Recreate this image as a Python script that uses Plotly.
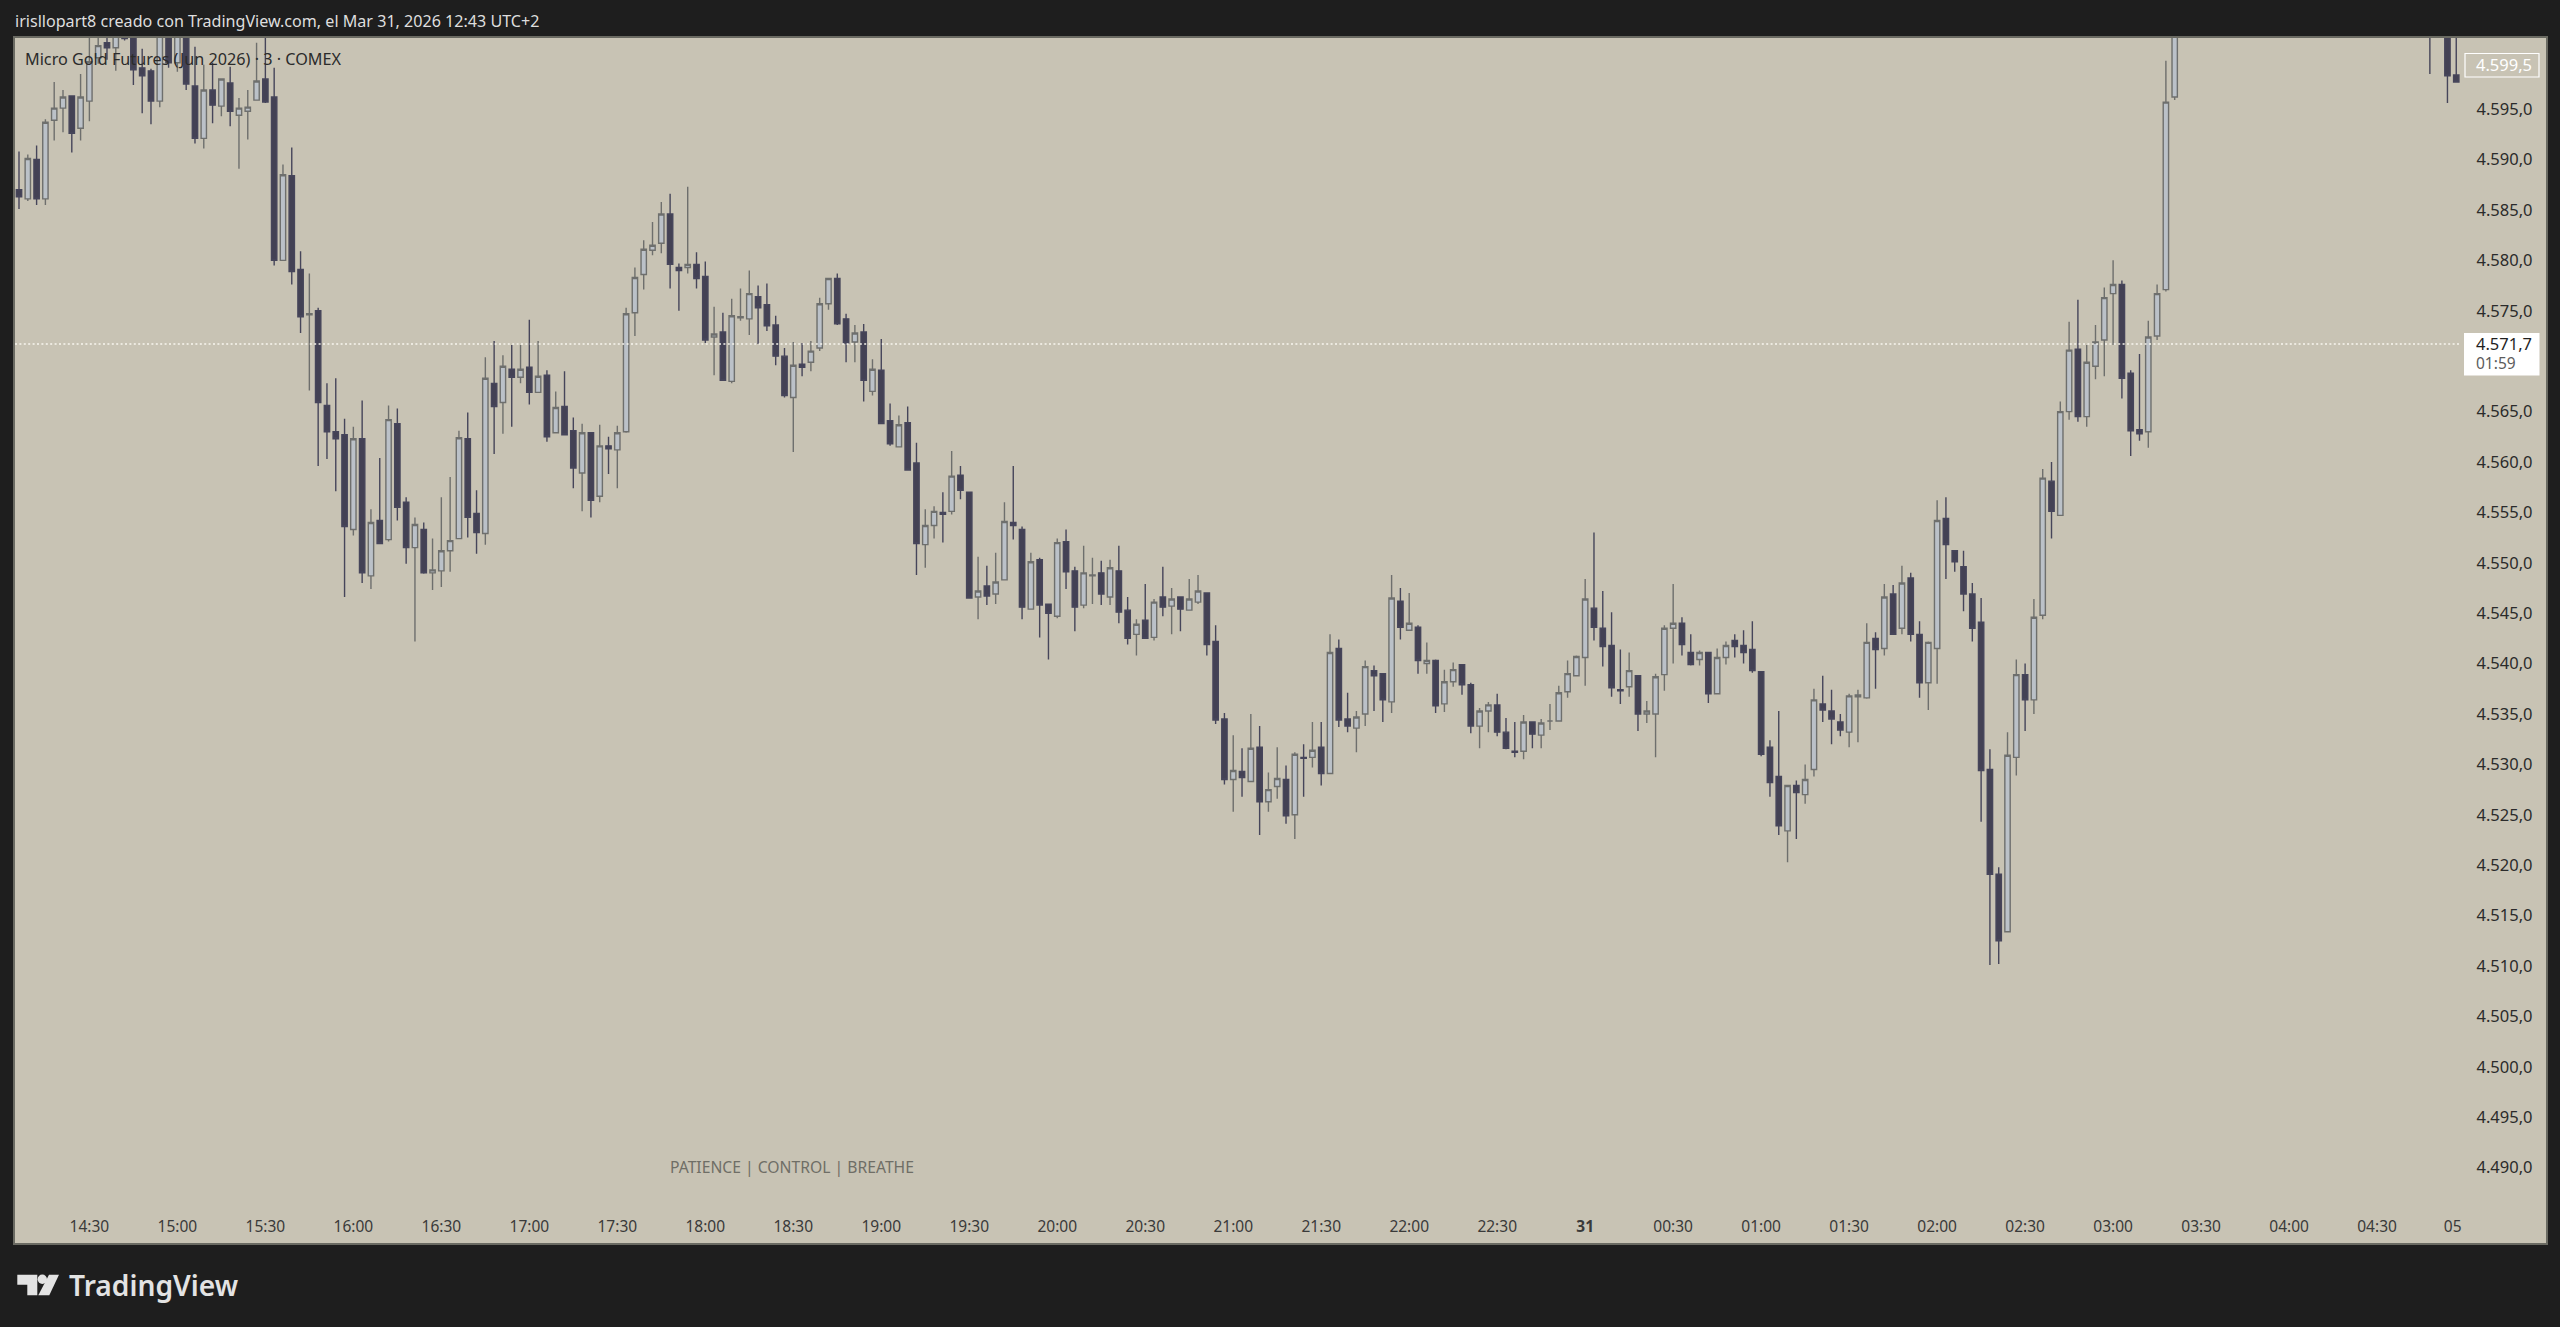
# micro gold futures, 3 min candles
import plotly.graph_objects as go

W, H = 2560, 1327
PANEL_L, PANEL_R, PANEL_T, PANEL_B = 15, 2546, 38, 1243

open_px = [
    4587.0,4586.1,4590.0,4586.1,4593.9,4595.1,4596.3,4593.1,4595.8,4600.1,
    4601.6,4601.1,4603.0,4605.0,4599.1,4598.8,4595.8,4604.0,4599.6,4604.5,
    4597.3,4592.1,4596.9,4595.3,4597.6,4594.4,4594.8,4595.9,4598.0,4596.2,
    4580.0,4588.4,4579.1,4574.6,4575.0,4565.6,4563.0,4562.7,4553.3,4562.3,
    4548.7,4554.2,4552.3,4563.8,4556.0,4551.5,4553.3,4549.0,4549.2,4551.2,
    4552.4,4562.3,4554.9,4552.9,4567.8,4565.9,4569.2,4568.4,4569.4,4566.9,
    4568.6,4562.9,4565.5,4563.1,4558.9,4562.9,4556.6,4561.6,4561.2,4563.0,
    4574.8,4578.6,4581.0,4581.7,4584.6,4579.3,4579.3,4579.6,4578.4,4572.4,
    4572.9,4568.0,4574.3,4574.2,4576.4,4575.6,4573.6,4570.5,4566.4,4569.7,
    4569.9,4571.3,4575.7,4578.2,4574.2,4571.9,4572.9,4567.0,4569.1,4564.1,
    4561.5,4563.9,4559.9,4551.8,4553.7,4555.0,4555.1,4558.7,4557.0,4546.6,
    4547.7,4546.9,4548.3,4554.0,4553.3,4545.4,4550.3,4545.9,4544.7,4552.1,
    4549.2,4545.8,4548.7,4549.0,4546.6,4549.2,4545.3,4542.9,4544.3,4542.6,
    4546.6,4545.7,4546.6,4545.3,4546.1,4547.0,4542.2,4534.5,4528.5,4529.3,
    4528.3,4531.7,4526.3,4527.8,4528.5,4525.0,4530.7,4530.7,4531.7,4529.1,
    4541.5,4534.5,4533.6,4535.0,4539.3,4539.0,4536.2,4546.2,4543.3,4543.6,
    4540.0,4540.3,4536.0,4538.2,4539.9,4537.9,4533.8,4535.3,4535.9,4533.2,
    4531.3,4531.3,4534.2,4532.9,4534.3,4534.3,4537.2,4538.8,4540.6,4545.5,
    4543.5,4541.8,4537.4,4537.7,4538.8,4535.0,4535.0,4538.9,4543.5,4544.0,
    4541.1,4540.4,4541.1,4537.0,4540.6,4542.3,4541.8,4541.4,4539.2,4531.7,
    4528.8,4523.4,4527.9,4527.0,4529.5,4536.0,4535.3,4534.2,4533.2,4536.7,
    4536.6,4542.5,4541.5,4546.9,4543.5,4548.5,4542.9,4538.1,4541.5,4554.4,
    4551.2,4549.6,4546.9,4544.1,4529.5,4519.1,4513.4,4530.7,4538.9,4536.4,
    4544.8,4558.1,4554.7,4565.0,4571.2,4564.5,4569.5,4572.1,4576.7,4577.6,
    4568.8,4563.2,4563.0,4572.5,4577.1,4596.2,
]
high_px = [
    4590.8,4590.5,4591.4,4594.0,4597.7,4596.9,4596.3,4598.5,4603.0,4603.0,
    4603.0,4603.5,4604.0,4606.0,4601.0,4599.0,4605.0,4605.0,4605.0,4605.0,
    4601.2,4599.4,4599.6,4598.0,4599.2,4596.1,4596.9,4601.6,4603.0,4599.1,
    4589.5,4591.2,4580.9,4578.7,4575.3,4567.8,4568.3,4564.3,4563.5,4566.1,
    4555.3,4560.4,4565.6,4565.3,4556.5,4554.5,4554.0,4552.4,4556.5,4558.5,
    4563.1,4564.9,4557.2,4570.4,4572.0,4570.6,4571.6,4571.6,4574.1,4572.0,
    4569.1,4567.0,4569.0,4564.4,4563.8,4562.9,4563.7,4562.5,4563.6,4575.3,
    4579.3,4582.0,4583.8,4585.8,4586.6,4579.7,4587.3,4580.8,4579.9,4575.4,
    4574.8,4576.2,4577.2,4579.0,4577.5,4577.7,4574.5,4571.3,4571.9,4571.8,
    4572.0,4576.3,4578.2,4578.7,4574.7,4573.6,4573.7,4570.2,4572.2,4565.8,
    4564.6,4565.5,4561.9,4555.3,4555.6,4557.0,4561.1,4559.6,4557.0,4550.6,
    4549.7,4551.0,4556.0,4559.6,4553.6,4551.0,4550.5,4545.9,4552.4,4553.3,
    4549.6,4551.7,4550.5,4550.2,4550.3,4551.7,4546.6,4544.4,4547.9,4546.4,
    4549.6,4547.5,4546.6,4548.4,4548.8,4547.0,4543.8,4535.1,4532.9,4531.6,
    4535.0,4533.8,4529.2,4531.7,4529.9,4531.2,4532.0,4534.2,4534.2,4542.9,
    4542.4,4537.1,4535.3,4540.3,4539.8,4539.0,4548.8,4547.5,4547.0,4543.8,
    4542.1,4540.4,4539.4,4540.1,4539.9,4538.1,4535.6,4536.2,4537.0,4534.6,
    4534.2,4534.9,4534.2,4534.5,4536.0,4537.8,4540.3,4540.8,4548.4,4553.0,
    4547.2,4545.1,4541.4,4541.1,4538.8,4536.3,4539.0,4543.8,4547.9,4544.6,
    4542.9,4541.3,4541.1,4541.5,4542.2,4542.9,4543.3,4544.2,4539.2,4532.4,
    4535.3,4527.9,4528.4,4530.0,4537.5,4538.8,4537.4,4535.0,4537.0,4537.4,
    4544.0,4543.1,4547.9,4547.8,4549.7,4549.0,4544.2,4542.2,4556.2,4556.5,
    4551.2,4551.2,4548.0,4546.5,4531.5,4519.8,4533.2,4540.4,4540.0,4546.4,
    4559.3,4560.0,4566.0,4573.9,4576.1,4571.6,4573.6,4577.3,4580.0,4578.0,
    4569.1,4570.7,4574.0,4577.6,4599.8,4608.0,
]
low_px = [
    4585.1,4585.9,4585.5,4585.5,4591.9,4592.7,4590.7,4591.9,4593.8,4599.5,
    4599.9,4598.8,4601.8,4597.4,4594.6,4593.5,4595.2,4599.1,4598.7,4596.9,
    4591.6,4591.1,4593.6,4594.3,4593.3,4589.1,4592.0,4595.9,4595.6,4579.5,
    4580.0,4577.6,4572.8,4567.1,4559.6,4560.3,4557.1,4546.6,4552.7,4548.0,
    4547.4,4551.9,4552.1,4554.2,4549.9,4542.2,4548.9,4547.3,4547.6,4549.1,
    4552.4,4552.5,4550.9,4551.8,4560.8,4562.8,4563.5,4567.8,4565.7,4566.9,
    4562.0,4562.9,4562.7,4557.4,4555.1,4554.5,4556.0,4558.8,4557.4,4562.9,
    4572.5,4577.1,4580.5,4580.7,4577.2,4575.0,4578.7,4577.2,4571.8,4568.6,
    4568.1,4567.8,4574.0,4572.6,4571.7,4573.0,4569.6,4566.4,4561.0,4568.5,
    4569.0,4571.0,4575.1,4573.6,4569.9,4569.9,4566.0,4566.6,4563.8,4561.6,
    4561.5,4559.2,4548.8,4549.5,4552.4,4552.0,4554.8,4556.3,4546.5,4544.4,
    4545.8,4545.9,4548.3,4552.3,4544.4,4545.4,4542.6,4540.4,4544.5,4547.4,
    4543.2,4545.5,4545.9,4545.8,4545.8,4544.0,4541.9,4540.8,4542.5,4542.3,
    4544.7,4542.9,4543.2,4545.3,4545.9,4540.8,4534.0,4528.0,4525.3,4526.8,
    4528.3,4523.0,4525.3,4526.6,4524.1,4522.6,4526.8,4529.7,4527.9,4529.1,
    4533.7,4533.2,4531.2,4533.8,4535.3,4534.2,4535.1,4542.4,4543.3,4539.0,
    4539.0,4535.1,4535.2,4537.7,4536.9,4533.1,4531.6,4533.2,4532.8,4531.5,
    4530.7,4530.5,4531.6,4531.6,4533.4,4534.3,4536.6,4538.8,4537.8,4542.3,
    4539.7,4536.7,4536.0,4536.7,4533.3,4534.1,4530.7,4537.3,4540.0,4540.8,
    4539.8,4539.8,4536.1,4537.0,4539.9,4540.6,4540.0,4539.1,4530.8,4526.8,
    4523.0,4520.3,4522.6,4526.1,4528.8,4534.2,4532.0,4532.8,4531.7,4532.2,
    4536.5,4537.5,4540.8,4542.9,4542.9,4542.2,4536.6,4535.4,4538.0,4548.4,
    4549.1,4545.2,4542.2,4524.3,4510.1,4510.2,4513.4,4528.9,4533.3,4535.0,
    4544.4,4552.4,4554.7,4564.2,4564.0,4563.5,4568.2,4568.5,4571.6,4566.3,
    4560.6,4562.1,4561.4,4572.1,4576.9,4595.9,
]
close_px = [
    4586.3,4590.1,4586.1,4593.7,4595.1,4596.2,4592.6,4596.2,4599.7,4601.3,
    4601.1,4602.3,4602.0,4598.9,4598.3,4595.8,4604.0,4599.6,4604.0,4597.5,
    4592.1,4596.9,4595.4,4598.0,4594.8,4595.1,4595.2,4597.8,4595.7,4580.0,
    4588.5,4578.9,4574.4,4574.7,4565.9,4563.0,4562.3,4553.6,4562.3,4549.0,
    4554.0,4551.9,4564.2,4555.5,4551.5,4553.8,4549.0,4549.3,4551.2,4552.2,
    4562.4,4554.5,4553.0,4568.3,4565.5,4569.5,4568.4,4569.2,4566.9,4568.5,
    4562.5,4565.4,4562.7,4559.4,4562.9,4556.2,4561.6,4561.3,4562.9,4574.7,
    4578.3,4581.1,4581.5,4584.6,4579.6,4579.0,4579.6,4578.2,4572.1,4572.7,
    4568.1,4574.5,4574.4,4576.7,4575.3,4573.5,4570.5,4566.6,4569.6,4569.4,
    4571.0,4575.7,4578.2,4573.7,4571.8,4572.8,4568.1,4569.2,4563.8,4561.8,
    4563.7,4559.2,4551.9,4553.7,4555.1,4554.8,4558.6,4557.2,4546.5,4547.2,
    4546.7,4548.1,4554.1,4553.7,4545.6,4550.1,4545.8,4545.0,4552.0,4549.1,
    4545.6,4549.0,4548.8,4546.9,4549.5,4545.1,4542.5,4543.9,4542.5,4546.1,
    4545.6,4546.4,4545.4,4546.4,4547.2,4541.9,4534.4,4528.5,4529.4,4528.7,
    4531.6,4526.3,4527.5,4528.6,4524.9,4531.0,4530.6,4531.4,4529.1,4541.1,
    4534.4,4533.8,4534.7,4539.7,4538.8,4536.4,4546.5,4543.6,4544.0,4540.3,
    4540.3,4535.8,4538.2,4539.4,4537.9,4533.8,4535.3,4535.9,4533.2,4531.6,
    4531.2,4534.2,4533.0,4534.1,4534.3,4537.1,4539.0,4540.7,4546.4,4543.6,
    4541.7,4537.6,4537.3,4539.3,4535.0,4535.3,4538.7,4543.5,4544.0,4541.9,
    4539.9,4541.1,4537.0,4540.6,4541.8,4541.7,4541.1,4539.3,4531.0,4528.2,
    4523.9,4527.9,4527.2,4528.5,4536.4,4535.4,4534.5,4533.4,4536.8,4536.9,
    4542.1,4541.4,4546.6,4542.9,4548.0,4542.9,4538.1,4542.1,4554.2,4551.8,
    4550.1,4546.9,4543.5,4529.4,4519.1,4512.5,4530.9,4538.9,4536.4,4544.6,
    4558.4,4555.1,4565.0,4571.1,4564.5,4569.9,4571.9,4576.3,4577.6,4568.3,
    4563.1,4562.8,4572.4,4576.7,4595.7,4606.0,
]

# the few candles hanging from the top on the far right
right_bars = [274, 276, 277]
right_open = [4606.0, 4604.0, 4598.4]
right_high = [4608.0, 4606.0, 4604.0]
right_low = [4598.5, 4595.6, 4597.7]
right_close = [4604.0, 4598.3, 4597.7]

time_ticks = [8 + 10 * i for i in range(27)] + [276.6]
time_labels = ["14:30", "15:00", "15:30", "16:00", "16:30", "17:00", "17:30", "18:00",
               "18:30", "19:00", "19:30", "20:00", "20:30", "21:00", "21:30", "22:00",
               "22:30", "<b>31</b>", "00:30", "01:00", "01:30", "02:00", "02:30", "03:00",
               "03:30", "04:00", "04:30", "05"]
# 4.570,0 sits under the last price tag, so it has no label of its own
price_ticks = [p for p in range(4490, 4605, 5) if p != 4570]

last_price = 4571.7
high_label = 4599.5

BG = "#c8c3b4"
DARK = "#1e1e1e"
FONT = "Noto Sans"

# pixel helpers, only for the frame and labels outside the data
def px_x(x):
    return (x - PANEL_L) / (PANEL_R - PANEL_L)

def px_y(y):
    return (PANEL_B - y) / (PANEL_B - PANEL_T)

def es_price(v):
    return f"{v:,.1f}".replace(",", "_").replace(".", ",").replace("_", ".")

bar_index = list(range(len(open_px))) + right_bars

fig = go.Figure(go.Candlestick(
    x=bar_index,
    open=open_px + right_open, high=high_px + right_high,
    low=low_px + right_low, close=close_px + right_close,
    increasing=dict(line=dict(color="#6e6f6d", width=1.4), fillcolor="#bbc1c8"),
    decreasing=dict(line=dict(color="#46455a", width=1.4), fillcolor="#434154"),
    hoverinfo="skip", showlegend=False,
))

fig.add_shape(type="line", xref="paper", yref="y", x0=0, x1=px_x(2461), y0=last_price, y1=last_price,
              line=dict(color="#f8f6ee", width=1.6, dash="2px,2.4px"))

# TradingView logo
logo_paths = ["M 17.3 1274.7 L 37.3 1274.7 L 37.3 1295.3 L 27.3 1295.3 L 27.3 1284.7 L 17.3 1284.7 Z",
              "M 49 1274.7 L 59 1274.7 L 49.3 1295.3 L 38.3 1295.3 Z"]
for p in logo_paths:
    parts = p.split()
    out, i = [], 0
    while i < len(parts):
        if parts[i] in "MLZ":
            out.append(parts[i]); i += 1
        else:
            out += [f"{px_x(float(parts[i])):.5f}", f"{px_y(float(parts[i + 1])):.5f}"]; i += 2
    fig.add_shape(type="path", xref="paper", yref="paper", path=" ".join(out),
                  fillcolor="#e3e3e3", line=dict(width=0))
fig.add_shape(type="circle", xref="paper", yref="paper", x0=px_x(37.6), x1=px_x(47), y0=px_y(1284), y1=px_y(1274.6),
              fillcolor="#e3e3e3", line=dict(width=0))

def label(text, x, y, size, color, anchor="left", weight=None):
    fig.add_annotation(text=text, xref="paper", yref="paper", x=px_x(x), y=px_y(y),
                       xanchor=anchor, yanchor="middle", showarrow=False,
                       font=dict(family=FONT, size=size, color=color, weight=weight))

label("irisllopart8 creado con TradingView.com, el Mar 31, 2026 12:43 UTC+2", 13, 21, 16.1, "#dedede")
label("Micro Gold Futures (Jun 2026) · 3 · COMEX", 23, 58.5, 16.2, "#2b2b2b")
label("PATIENCE | CONTROL | BREATHE", 668, 1167, 15.7, "#6f6e66")
label("TradingView", 67, 1285, 28.2, "#e3e3e3", weight=600)

# price tags on the axis
fig.add_shape(type="rect", xref="paper", yref="paper", x0=px_x(2465), x1=px_x(2539), y0=px_y(77), y1=px_y(53.5),
              fillcolor=BG, line=dict(color="#ffffff", width=1.2))
fig.add_shape(type="rect", xref="paper", yref="paper", x0=px_x(2464), x1=px_x(2539.5), y0=px_y(375.5), y1=px_y(333),
              fillcolor="#ffffff", line=dict(width=0))
label(es_price(high_label), 2474, 64, 16.5, "#ffffff")
label(es_price(last_price), 2474, 343.5, 16.5, "#1f1f1f")
label("01:59", 2474, 363, 15.5, "#5c5c5c")

fig.update_layout(
    width=W, height=H,
    margin=dict(l=PANEL_L, r=W - PANEL_R, t=PANEL_T, b=H - PANEL_B, autoexpand=False),
    paper_bgcolor=DARK, plot_bgcolor=BG,
    separators=",.",
    font=dict(family=FONT, color="#2a2a2a"),
    boxgap=0.25, boxgroupgap=0.19,
)
fig.update_xaxes(
    range=[-0.455, 287.2], rangeslider_visible=False,
    tickmode="array", tickvals=time_ticks, ticktext=time_labels,
    ticklabelposition="inside", ticklabelstandoff=8, ticks="",
    tickfont=dict(size=15.5, color="#3a3a3a", family=FONT),
    showgrid=False, zeroline=False, showline=True, linecolor="#6a6a62", linewidth=1.5, mirror=True,
)
fig.update_yaxes(
    range=[4482.52, 4602.06], side="right",
    tickmode="array", tickvals=price_ticks, tickformat=",.1f",
    ticklabelposition="inside", ticklabelstandoff=14, ticks="",
    tickfont=dict(size=16.5, color="#2b2b2b", family=FONT),
    showgrid=False, zeroline=False, showline=True, linecolor="#6a6a62", linewidth=1.5, mirror=True,
)

fig.write_html("out.html", config={"displayModeBar": False},
               post_script="document.body.style.margin='0';document.body.style.overflow='hidden';")
